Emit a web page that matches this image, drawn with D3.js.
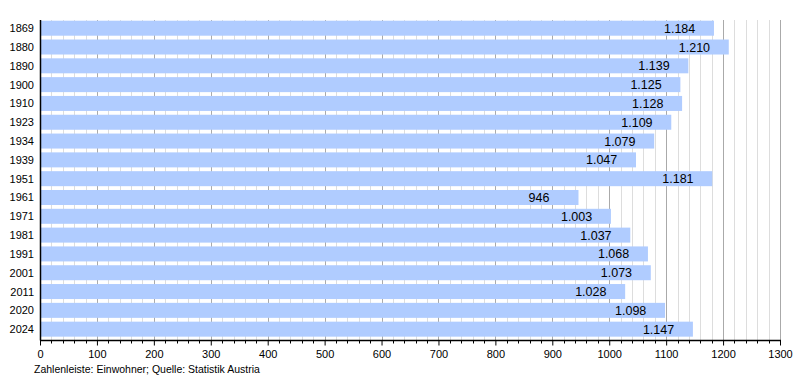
<!DOCTYPE html>
<html><head><meta charset="utf-8">
<script src="https://cdn.jsdelivr.net/npm/d3@7"></script>
<style>body{margin:0;background:#fff}svg{display:block;font-family:"Liberation Sans",Arial,sans-serif}</style>
</head><body><svg id="c" width="800" height="380"></svg>
<script>
const years = ["1869","1880","1890","1900","1910","1923","1934","1939","1951","1961","1971","1981","1991","2001","2011","2020","2024"];
const population = [1184,1210,1139,1125,1128,1109,1079,1047,1181,946,1003,1037,1068,1073,1028,1098,1147];
const valueLabels = ["1.184","1.210","1.139","1.125","1.128","1.109","1.079","1.047","1.181","946","1.003","1.037","1.068","1.073","1.028","1.098","1.147"];
const majorTicks = [0,100,200,300,400,500,600,700,800,900,1000,1100,1200,1300];
const minorTicks = d3.range(0,1301,20);
const footnote = "Zahlenleiste: Einwohner; Quelle: Statistik Austria";

(function(){
const svg = d3.select("#c");
const L = 40, R = 780, T = 20, B = 340.5;
const x = d3.scaleLinear().domain([0,1300]).range([L,R]);
const pitch = 18.81, pIn = 3.81/18.81;
const y = d3.scaleBand().domain(years).range([20.7, 20.7 + pitch*(years.length - pIn)]).paddingInner(pIn).paddingOuter(0).align(0);
const bh = y.bandwidth();

// minor grid
svg.append("g").selectAll("line").data(minorTicks.filter(t=>t%100!==0)).join("line")
  .attr("x1",d=>Math.round(x(d))+0.5).attr("x2",d=>Math.round(x(d))+0.5)
  .attr("y1",T).attr("y2",B).attr("stroke","#dddddd").attr("stroke-width",1);
svg.append("g").selectAll("line").data(majorTicks.filter(t=>t>0)).join("line")
  .attr("x1",d=>Math.round(x(d))+0.5).attr("x2",d=>Math.round(x(d))+0.5)
  .attr("y1",T).attr("y2",B).attr("stroke","#aaaaaa").attr("stroke-width",1);

// bars
svg.append("g").selectAll("rect").data(population).join("rect")
  .attr("x",x(0)).attr("y",(d,i)=>y(years[i])).attr("width",d=>x(d)-x(0)).attr("height",bh)
  .attr("fill","#b0ccff");

// value labels
svg.append("g").selectAll("text").data(population).join("text")
  .attr("x",d=>x(d)-50).attr("y",(d,i)=>y(years[i])+bh/2+4.5)
  .attr("font-size",12.5).attr("fill","#000").text((d,i)=>valueLabels[i]);

// year labels
svg.append("g").selectAll("text").data(years).join("text")
  .attr("x",34).attr("y",d=>y(d)+bh/2+4)
  .attr("text-anchor","end").attr("font-size",11).attr("fill","#000").text(d=>d);

// axes
const axisG = svg.append("g").attr("transform",`translate(0,${B})`);
const ax = d3.axisBottom(x).tickValues(majorTicks).tickSize(5).tickFormat(d3.format("d"));
axisG.call(ax);
axisG.select(".domain").remove();
axisG.selectAll(".tick text").attr("font-size",11).attr("font-family","Liberation Sans, Arial, sans-serif").attr("fill","#000").attr("dy","0.9em");
axisG.selectAll(".tick line").attr("stroke","#000");
axisG.append("g").selectAll("line").data(minorTicks.filter(t=>t%100!==0)).join("line")
  .attr("x1",d=>Math.round(x(d))+0.5).attr("x2",d=>Math.round(x(d))+0.5)
  .attr("y1",0).attr("y2",3).attr("stroke","#000");
svg.append("line").attr("x1",L).attr("x2",R+1).attr("y1",B).attr("y2",B).attr("stroke","#000").attr("stroke-width",1.5);
svg.append("line").attr("x1",L+0.5).attr("x2",L+0.5).attr("y1",T).attr("y2",B).attr("stroke","#000").attr("stroke-width",1.5);

svg.append("text").attr("x",34).attr("y",373).attr("font-size",10.5).attr("fill","#000").text(footnote);
})();
</script></body></html>
